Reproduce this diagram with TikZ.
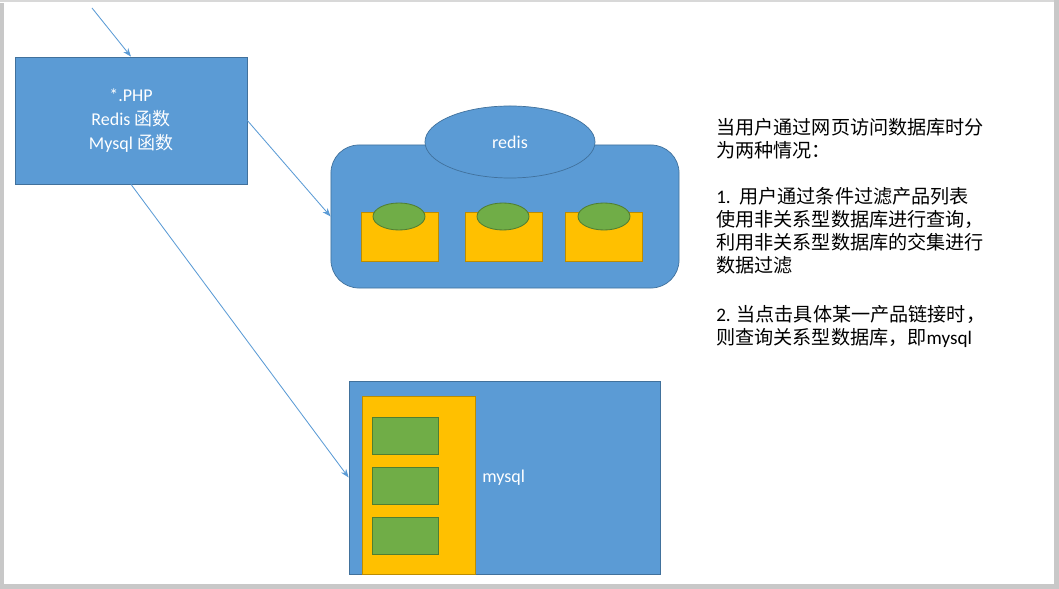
\documentclass[tikz,border=0pt]{standalone}
\usepackage{fontspec}
\setmainfont{Carlito}
\newfontfamily\cjk{Noto Sans CJK SC}
\usetikzlibrary{arrows.meta,shapes.geometric}

\definecolor{boxblue}{HTML}{5B9BD5}
\definecolor{boxedge}{HTML}{41719C}
\definecolor{tableyellow}{HTML}{FFC000}
\definecolor{tableedge}{HTML}{BC8C00}
\definecolor{keygreen}{HTML}{70AD47}
\definecolor{keyedge}{HTML}{507E32}
\definecolor{framegray}{HTML}{C8C8C8}

\tikzset{
  bluebox/.style={draw=boxedge, fill=boxblue, line width=0.5pt, text=white, inner sep=0pt,
    font=\fontsize{12.8pt}{17pt}\selectfont},
  tablebox/.style={draw=tableedge, fill=tableyellow, line width=0.6pt, inner sep=0pt},
  keybox/.style={draw=keyedge, fill=keygreen, line width=0.6pt, inner sep=0pt},
  link/.style={draw=boxblue, line width=0.6pt, -{Stealth[length=6pt,width=4.5pt]}},
}

\begin{document}
\begin{tikzpicture}[x=0.025cm, y=-0.025cm]
			%%%%% FRAME %%%%%
			\useasboundingbox (0,0) rectangle (1059,589);
			\fill[framegray] (0,3) rectangle (4,589);
			\fill[framegray] (0,584) rectangle (1059,589);
			\fill[framegray] (1054,0) rectangle (1059,589);
			\fill[framegray!70] (0,0) rectangle (1054,2);
			
			%%%%% PHP %%%%%
			\node[bluebox, rectangle, minimum width=5.8cm, minimum height=3.175cm, align=center]
				(php) at (131,120.5) {*.PHP\\Redis {\cjk 函数}\\Mysql {\cjk 函数}};
			\coordinate (entry) at (92,8);
			
			%%%%% REDIS %%%%%
			\node[bluebox, rectangle, rounded corners=0.7cm, minimum width=8.7cm, minimum height=3.575cm]
				(redis) at (505,216.5) {};
			\node[bluebox, ellipse, minimum width=4.25cm, minimum height=1.8cm] (redislabel) at (510,142) {redis};
			
			\node[tablebox, minimum width=1.925cm, minimum height=1.225cm] (set1) at (399.5,236.5) {};
			\node[tablebox, minimum width=1.925cm, minimum height=1.225cm] (set2) at (503.5,236.5) {};
			\node[tablebox, minimum width=1.925cm, minimum height=1.225cm] (set3) at (604,236.5) {};
			\node[keybox, ellipse, minimum width=1.3cm, minimum height=0.675cm] (key1) at (399,216.5) {};
			\node[keybox, ellipse, minimum width=1.3cm, minimum height=0.675cm] (key2) at (503,216.5) {};
			\node[keybox, ellipse, minimum width=1.3cm, minimum height=0.675cm] (key3) at (604,216.5) {};
			
			%%%%% MYSQL %%%%%
			\node[bluebox, rectangle, minimum width=7.775cm, minimum height=4.825cm] (mysql) at (504.5,477.5) {};
			\node[tablebox, minimum width=2.825cm, minimum height=4.45cm] (table) at (418.5,485) {};
			\node[keybox, minimum width=1.65cm, minimum height=0.925cm] (row1) at (405,435.5) {};
			\node[keybox, minimum width=1.65cm, minimum height=0.925cm] (row2) at (405,485.5) {};
			\node[keybox, minimum width=1.65cm, minimum height=0.925cm] (row3) at (405,535.5) {};
			\node[text=white, anchor=west, inner sep=0pt, font=\fontsize{12.8pt}{17pt}\selectfont]
				(mysqllabel) at (482,478) {mysql};
			
			%%%%% LINKS %%%%%
			\draw[link] (entry) -- (php.north);
			\draw[link] (php.east) -- (redis.west);
			\draw[link] (php.south) -- (mysql.west);
			
			%%%%% NOTE %%%%%
			\node[anchor=north west, inner sep=0pt, align=left, font=\fontsize{13.6pt}{16.4pt}\selectfont]
				(note) at (716,118) {{\cjk 当用户通过网页访问数据库时分}\\
				{\cjk 为两种情况：}\\[16.4pt]
				1.\ \ {\cjk 用户通过条件过滤产品列表}\\
				{\cjk 使用非关系型数据库进行查询，}\\
				{\cjk 利用非关系型数据库的交集进行}\\
				{\cjk 数据过滤}\\[18pt]
				2. {\cjk 当点击具体某一产品链接时，}\\
				{\cjk 则查询关系型数据库，即}mysql};
			
\end{tikzpicture}
\end{document}
